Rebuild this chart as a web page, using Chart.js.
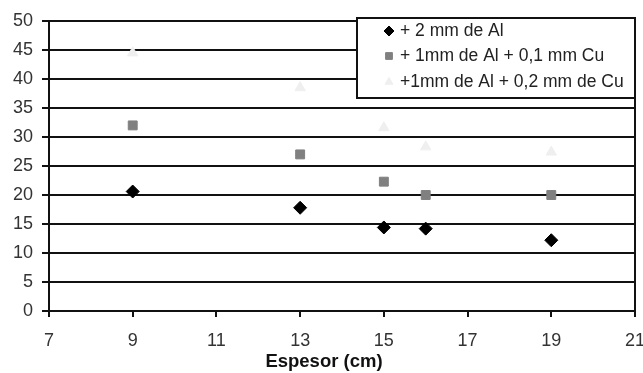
<!DOCTYPE html>
<html>
<head>
<meta charset="utf-8">
<script src="https://cdn.jsdelivr.net/npm/chart.js@4.4.1/dist/chart.umd.min.js"></script>
<style>
  html, body { margin: 0; padding: 0; background: #fff; }
  #wrap { width: 643px; height: 373px; }
</style>
</head>
<body>
<div id="wrap"><canvas id="myChart" width="643" height="373"></canvas></div>
<script>
// espesor (cm) en el eje x
let espesor = [9, 13, 15, 16, 19]

let serieNames = ['+ 2 mm de Al', '+ 1mm de Al + 0,1 mm Cu', '+1mm de Al + 0,2 mm de Cu']
let alValue = [20.6, 17.8, 14.4, 14.2, 12.2]
let cu01Value = [32, 27, 22.3, 20, 20]
let cu02Value = [44.5, 38.5, 31.6, 28.3, 27.4]

let xTicks = [7, 9, 11, 13, 15, 17, 19, 21]
let yTicks = [0, 5, 10, 15, 20, 25, 30, 35, 40, 45, 50]
let xTitle = 'Espesor (cm)'

let fontFamily = '"Liberation Sans", Arial, sans-serif'

function toPoints(values) {
    return espesor.map(function (x, i) { return { x: x, y: values[i] } })
}

let styles = [
    { pointStyle: 'rectRot', radius: 6.5, color: '#000000' },
    { pointStyle: 'rect', radius: 6.3, color: '#808080' },
    { pointStyle: 'triangle', radius: 6, color: '#efefef' }
]

// borde derecho, titulo del eje x y cuadro de leyenda encima de la grilla
let boxLegend = {
    id: 'boxLegend',
    beforeDatasetsDraw(chart) {
        let ctx = chart.ctx
        let a = chart.chartArea
        ctx.save()
        ctx.strokeStyle = '#111'
        ctx.lineWidth = 2
        ctx.beginPath()
        ctx.moveTo(a.right, a.top)
        ctx.lineTo(a.right, a.bottom)
        ctx.stroke()
        ctx.restore()
    },
    afterDraw(chart) {
        let ctx = chart.ctx
        ctx.save()
        ctx.fillStyle = '#111'
        ctx.font = 'bold 18.5px ' + fontFamily
        ctx.textAlign = 'center'
        ctx.textBaseline = 'middle'
        ctx.fillText(xTitle, 324, 362)

        ctx.fillStyle = '#fff'
        ctx.fillRect(357, 18, 278, 80)
        ctx.strokeStyle = '#111'
        ctx.lineWidth = 2
        ctx.strokeRect(357, 18, 278, 80)
        ctx.font = '17.5px ' + fontFamily
        ctx.textAlign = 'left'
        let rows = [31, 56, 82]
        serieNames.forEach(function (name, i) {
            let s = styles[i]
            ctx.fillStyle = s.color
            ctx.strokeStyle = s.color
            ctx.lineWidth = 1
            Chart.helpers.drawPoint(ctx, { pointStyle: s.pointStyle, radius: s.radius - 1.5, borderWidth: 1 }, 389, rows[i])
            ctx.fillStyle = '#222'
            ctx.fillText(name, 400, rows[i])
        })
        ctx.restore()
    }
}

let myChart = document.getElementById('myChart').getContext('2d')

let chart = new Chart(myChart, {
    type: 'scatter',
    data: {
        datasets: [alValue, cu01Value, cu02Value].map(function (values, i) {
            return {
                label: serieNames[i],
                data: toPoints(values),
                pointStyle: styles[i].pointStyle,
                pointRadius: styles[i].radius,
                backgroundColor: styles[i].color,
                borderColor: styles[i].color,
                borderWidth: 1
            }
        })
    },
    options: {
        responsive: false,
        animation: false,
        layout: { padding: { top: 21, right: 0, left: 0, bottom: 0 } },
        plugins: {
            legend: { display: false },
            tooltip: { enabled: false }
        },
        scales: {
            x: {
                type: 'linear',
                min: 7,
                max: 21,
                afterBuildTicks: function (axis) {
                    axis.ticks = xTicks.map(function (v) { return { value: v } })
                },
                afterFit: function (axis) {
                    axis.height = 62
                    axis.paddingRight = 8
                },
                grid: { drawOnChartArea: false, tickLength: 6, color: '#111', lineWidth: 2 },
                border: { color: '#111', width: 2 },
                ticks: {
                    color: '#333',
                    padding: 13,
                    font: { family: fontFamily, size: 18 }
                }
            },
            y: {
                min: 0,
                max: 50,
                afterBuildTicks: function (axis) {
                    axis.ticks = yTicks.map(function (v) { return { value: v } })
                },
                afterFit: function (axis) { axis.width = 49 },
                grid: { color: '#111', lineWidth: 2, tickLength: 7 },
                border: { color: '#111', width: 2 },
                ticks: {
                    color: '#333',
                    padding: 9,
                    font: { family: fontFamily, size: 18 }
                }
            }
        }
    },
    plugins: [boxLegend]
})
</script>
</body>
</html>
